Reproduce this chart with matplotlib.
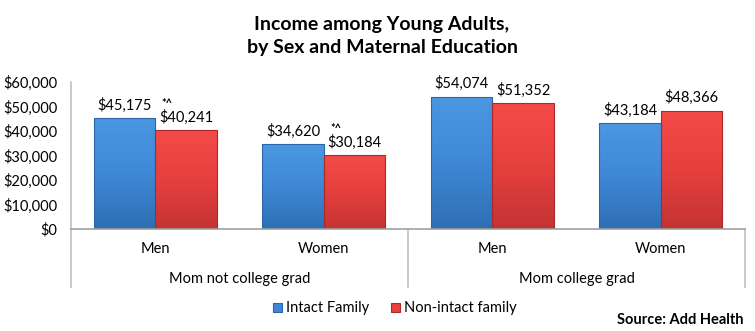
import matplotlib
matplotlib.use('Agg')
import matplotlib.pyplot as plt
from matplotlib.colors import LinearSegmentedColormap
import numpy as np

plt.rcParams['font.family'] = ['Lato', 'DejaVu Sans']

groups = ['Mom not college grad', 'Mom college grad']
sexes = ['Men', 'Women', 'Men', 'Women']
intact = [45175, 34620, 54074, 43184]
non_intact = [40241, 30184, 51352, 48366]
sig_marks = ['*^', '*^', '', '']
yticks = [0, 10000, 20000, 30000, 40000, 50000, 60000]

blue = '#3f87d4'
red = '#e8413f'

fig = plt.figure(figsize=(7.55, 3.31), dpi=100)
ax = fig.add_axes([0.094, 0.308, 0.893, 0.444])

x = np.arange(len(sexes))
w = 0.365
b1 = ax.bar(x - w / 2, intact, w, color=blue, edgecolor='#2a66a8', linewidth=0.8, label='Intact Family')
b2 = ax.bar(x + w / 2, non_intact, w, color=red, edgecolor='#a82a2a', linewidth=0.8, label='Non-intact family')

# shaded look like the office chart
grad_b = LinearSegmentedColormap.from_list('gb', ['#2e6fb4', '#3f88d6', '#4b97e2'])
grad_r = LinearSegmentedColormap.from_list('gr', ['#c43333', '#e6403e', '#f44b49'])
grad = np.linspace(0, 1, 100).reshape(-1, 1)
for bars, cm in [(b1, grad_b), (b2, grad_r)]:
    for p in bars:
        x0, y0 = p.get_x(), p.get_y()
        im = ax.imshow(grad, cmap=cm, origin='lower', aspect='auto',
                       extent=[x0, x0 + p.get_width(), y0, y0 + p.get_height()], zorder=p.get_zorder())
        im.set_clip_path(p)
        p.set_zorder(p.get_zorder() + 0.1)
        p.set_facecolor('none')

ax.set_xlim(-0.5, len(sexes) - 0.5)
ax.set_ylim(0, 60000)
ax.set_yticks(yticks)
ax.set_yticklabels(['${:,}'.format(v) for v in yticks], fontsize=10.5)
ax.tick_params(axis='y', length=0, pad=10)
ax.set_xticks([])
for s in ['top', 'right']:
    ax.spines[s].set_visible(False)
ax.spines['left'].set_color('#c0c0c0')
ax.spines['bottom'].set_color('#a0a0a0')
ax.spines['left'].set_linewidth(1.2)
ax.spines['bottom'].set_linewidth(1.2)

# value labels
for i in range(len(sexes)):
    ax.text(x[i] - w / 2, intact[i] + 2200, '${:,}'.format(intact[i]), ha='center', va='bottom', fontsize=10.5)
    ax.text(x[i] + w / 2, non_intact[i] + 2200, '${:,}'.format(non_intact[i]), ha='center', va='bottom', fontsize=10.5)
    if sig_marks[i]:
        ax.text(x[i] + w / 2 - 0.11, non_intact[i] + 8600, sig_marks[i], ha='center', va='bottom', fontsize=8, fontweight='bold')

# category axis below
for i, s in enumerate(sexes):
    ax.text(x[i], -0.135, s, transform=ax.get_xaxis_transform(), ha='center', va='center', fontsize=10.5)
for j, g in enumerate(groups):
    ax.text(2 * j + 0.5, -0.34, g, transform=ax.get_xaxis_transform(), ha='center', va='center', fontsize=10.5)
for xv in [-0.5, 1.5, 3.5]:
    ax.plot([xv, xv], [0, -0.395], transform=ax.get_xaxis_transform(), color='#c0c0c0', lw=1.2, clip_on=False)

fig.text(0.506, 0.925, 'Income among Young Adults,', ha='center', va='center', fontsize=14, fontweight='bold')
fig.text(0.506, 0.855, 'by Sex and Maternal Education', ha='center', va='center', fontsize=14, fontweight='bold')

fig.legend(handles=[b1, b2], labels=['Intact Family', 'Non-intact family'], loc='center',
           bbox_to_anchor=(0.523, 0.068), ncol=2, frameon=False,
           fontsize=10.5, handlelength=0.6, handleheight=0.6, handletextpad=0.3, columnspacing=1.5)
leg = fig.legends[0]
for h, c, e in zip(leg.legend_handles, [blue, red], ['#2a66a8', '#a82a2a']):
    h.set_facecolor(c)
    h.set_edgecolor(e)

fig.text(0.985, 0.033, 'Source: Add Health', ha='right', va='center', fontsize=10.5, fontweight='bold')

plt.savefig('out.png', dpi=100)
